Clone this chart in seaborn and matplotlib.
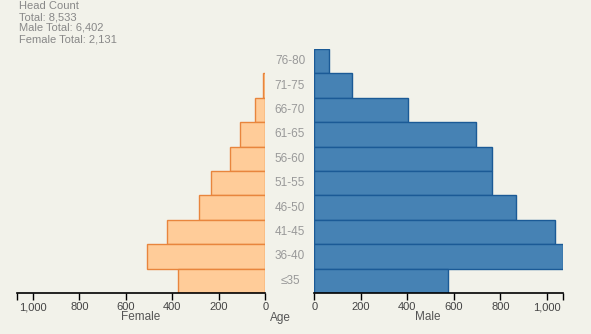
import matplotlib
matplotlib.use("Agg")
import matplotlib.pyplot as plt
import seaborn as sns
import pandas as pd
from matplotlib.ticker import FuncFormatter, FixedLocator

ages = ["76-80", "71-75", "66-70", "61-65", "56-60", "51-55", "46-50", "41-45", "36-40", "≤35"]
male = [64, 163, 404, 696, 765, 762, 868, 1036, 1070, 574]
female = [0, 8, 43, 107, 150, 232, 284, 425, 508, 374]
header = ["Head Count", "Total: 8,533", "Male Total: 6,402", "Female Total: 2,131"]
ticks = [0, 200, 400, 600, 800, 1000]

sns.set_theme(style="white")
plt.rcParams['font.family'] = ['Liberation Sans', 'DejaVu Sans']

bg = "#f2f2ea"
W, H = 591, 334
fig = plt.figure(figsize=(W / 100, H / 100), dpi=100, facecolor=bg)

dmax = max(male)
top, bot = 49, 293
axF = fig.add_axes([16.7 / W, 1 - bot / H, (265.3 - 16.7) / W, (bot - top) / H])
axM = fig.add_axes([314.3 / W, 1 - bot / H, (563.3 - 314.3) / W, (bot - top) / H])

df = pd.DataFrame({"age": ages, "male": male, "female": female})

sns.barplot(data=df, y="age", x="female", order=ages, orient="h", ax=axF,
            color="#ffcc99", saturation=1, width=1.0, edgecolor="#e8853d", linewidth=1)
sns.barplot(data=df, y="age", x="male", order=ages, orient="h", ax=axM,
            color="#4682b4", saturation=1, width=1.0, edgecolor="#1b5a96", linewidth=1)

for ax in (axF, axM):
    for p in ax.patches:
        if p.get_width() == 0:
            p.set_visible(False)

fmt = FuncFormatter(lambda v, p: f"{int(v):,}")
for ax, lim in ((axF, (dmax, 0)), (axM, (0, dmax))):
    ax.set_facecolor(bg)
    ax.set_xlim(*lim)
    ax.set_ylim(len(ages) - 0.5, -0.5)
    for s in ("top", "left", "right"):
        ax.spines[s].set_visible(False)
    ax.spines["bottom"].set_color("black")
    ax.spines["bottom"].set_linewidth(1.2)
    ax.set_yticks([])
    ax.set_ylabel("")
    ax.set_xlabel("")
    ax.xaxis.set_major_locator(FixedLocator(ticks))
    ax.xaxis.set_major_formatter(fmt)
    ax.xaxis.set_minor_locator(FixedLocator([dmax]))
    ax.tick_params(axis="x", which="both", bottom=True, direction="out", length=5,
                   width=1, color="black", labelsize=8, labelcolor="#444444", pad=1.5)

for i, a in enumerate(ages):
    y = top + (i + 0.5) * (bot - top) / len(ages)
    fig.text(290 / W, 1 - y / H, a, ha="center", va="center", fontsize=8.5, color="#999999")

fig.text(141 / W, 1 - 317 / H, "Female", ha="center", va="center", fontsize=8.5, color="#555555")
fig.text(428 / W, 1 - 317 / H, "Male", ha="center", va="center", fontsize=8.5, color="#555555")
fig.text(280 / W, 1 - 318 / H, "Age", ha="center", va="center", fontsize=8.5, color="#555555")

for i, line in enumerate(header):
    fig.text(19 / W, 1 - (6 + i * 11) / H, line, ha="left", va="center", fontsize=8, color="#888888")

fig.savefig("out.png", dpi=100, facecolor=bg)
